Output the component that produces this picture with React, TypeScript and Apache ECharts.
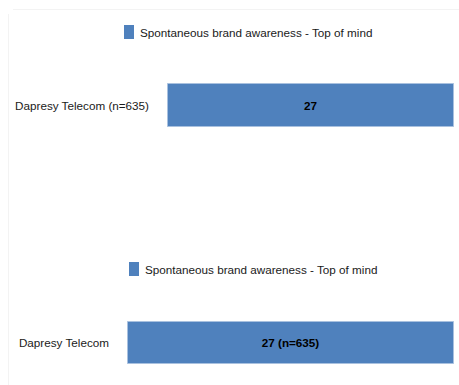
import React, { useEffect, useRef } from "react";
import * as echarts from "echarts";

const seriesName = "Spontaneous brand awareness - Top of mind";
const brands = ["Dapresy Telecom"];
const sampleSizes = [635];
const values = [27];
const axisMax = 27;

const FONT = "'Liberation Sans', Arial, sans-serif";
const FS = 11.7;
const BAR_COLOR = "#4f81bd";

export default function App() {
  const ref = useRef<HTMLDivElement>(null);
  useEffect(() => {
    if (!ref.current) return;
    const chart = echarts.init(ref.current, undefined, { renderer: "svg" });
    const cats1 = brands.map((b, i) => `${b} (n=${sampleSizes[i]})`);
    const cats2 = brands.slice();
    const baseY = {
      type: "category" as const,
      inverse: true,
      axisLine: { show: false },
      axisTick: { show: false },
      splitLine: { show: false },
      axisLabel: { color: "#1a1a1a", fontSize: FS, fontFamily: FONT, margin: 18 },
    };
    const baseX = {
      type: "value" as const,
      min: 0,
      max: axisMax,
      show: false,
    };
    const legendBase = {
      itemWidth: 10,
      itemHeight: 14,
      itemGap: 10,
      icon: "rect",
      itemStyle: { borderWidth: 0, color: BAR_COLOR },
      textStyle: { color: "#1a1a1a", fontSize: FS, fontFamily: FONT, padding: [0, 0, 0, 1] },
      padding: 0,
      selectedMode: false as const,
      data: [seriesName],
    };
    chart.setOption({
      animation: false,
      backgroundColor: "#ffffff",
      textStyle: { fontFamily: FONT },
      graphic: [
        { type: "line", shape: { x1: 13, y1: 9.5, x2: 459, y2: 9.5 }, style: { stroke: "#f3f3f3", lineWidth: 1 } },
        { type: "line", shape: { x1: 8.5, y1: 14, x2: 8.5, y2: 385 }, style: { stroke: "#f3f3f3", lineWidth: 1 } },
      ],
      legend: [
        { ...legendBase, left: 124, top: 25 },
        { ...legendBase, left: 129, top: 262 },
      ],
      grid: [
        { left: 167, right: 5, top: 83, height: 44 },
        { left: 127, right: 5, top: 321, height: 43 },
      ],
      xAxis: [
        { ...baseX, gridIndex: 0 },
        { ...baseX, gridIndex: 1 },
      ],
      yAxis: [
        { ...baseY, gridIndex: 0, data: cats1 },
        { ...baseY, gridIndex: 1, data: cats2 },
      ],
      series: [
        {
          name: seriesName,
          type: "bar",
          xAxisIndex: 0,
          yAxisIndex: 0,
          data: values,
          barWidth: "100%",
          itemStyle: { color: BAR_COLOR, borderColor: "#a9c1df", borderWidth: 1 },
          label: {
            show: true,
            position: "inside",
            color: "#000",
            fontWeight: "bold",
            fontSize: FS,
            fontFamily: FONT,
          },
        },
        {
          name: seriesName,
          type: "bar",
          xAxisIndex: 1,
          yAxisIndex: 1,
          data: values,
          barWidth: "100%",
          itemStyle: { color: BAR_COLOR, borderColor: "#a9c1df", borderWidth: 1 },
          label: {
            show: true,
            position: "inside",
            color: "#000",
            fontWeight: "bold",
            fontSize: FS,
            fontFamily: FONT,
            formatter: (p: any) => `${p.value} (n=${sampleSizes[p.dataIndex]})`,
          },
        },
      ],
    });
    return () => chart.dispose();
  }, []);
  return (
    <div
      ref={ref}
      style={{ position: "fixed", left: 0, top: 0, width: 459, height: 385, background: "#fff" }}
    />
  );
}
